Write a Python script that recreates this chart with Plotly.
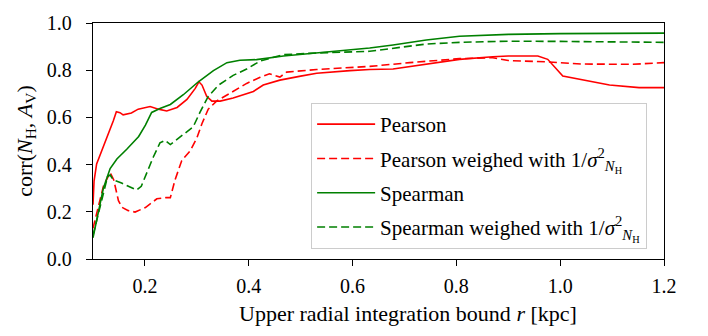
import plotly.graph_objects as go

pearson_x = [0.1, 0.102, 0.107, 0.117, 0.127, 0.133, 0.139, 0.145, 0.152, 0.158, 0.174, 0.187, 0.21, 0.226,
             0.242, 0.262, 0.281, 0.297, 0.304, 0.31, 0.319, 0.329, 0.345, 0.37, 0.396, 0.409, 0.428,
             0.46, 0.5, 0.531, 0.595, 0.633, 0.678, 0.742, 0.806, 0.87, 0.9, 0.957, 0.976, 1.005,
             1.043, 1.095, 1.152, 1.2]
pearson_y = [0.23, 0.33, 0.403, 0.458, 0.512, 0.553, 0.585, 0.624, 0.62, 0.611, 0.619, 0.635, 0.646, 0.635,
             0.627, 0.642, 0.676, 0.723, 0.751, 0.737, 0.689, 0.669, 0.669, 0.682, 0.70, 0.71, 0.737,
             0.758, 0.775, 0.787, 0.798, 0.803, 0.805, 0.826, 0.846, 0.857, 0.86, 0.86, 0.846, 0.775,
             0.758, 0.737, 0.726, 0.726]

pearson_w_x = [0.1, 0.111, 0.12, 0.133, 0.14, 0.149, 0.156, 0.168, 0.181, 0.201, 0.223, 0.24, 0.249,
               0.258, 0.271, 0.287, 0.30, 0.31, 0.322, 0.338, 0.364, 0.396, 0.422, 0.44, 0.46, 0.473,
               0.531, 0.595, 0.633, 0.71, 0.806, 0.87, 0.9, 0.979, 1.043, 1.14, 1.2]
pearson_w_y = [0.13, 0.226, 0.308, 0.367, 0.335, 0.247, 0.219, 0.205, 0.199, 0.218, 0.255, 0.26, 0.26,
               0.335, 0.417, 0.458, 0.512, 0.574, 0.635, 0.669, 0.703, 0.744, 0.77, 0.785, 0.771, 0.792,
               0.803, 0.812, 0.816, 0.832, 0.849, 0.853, 0.841, 0.835, 0.826, 0.825, 0.832]

spearman_x = [0.1, 0.111, 0.12, 0.133, 0.146, 0.165, 0.188, 0.201, 0.213, 0.229, 0.249, 0.274, 0.303,
              0.332, 0.358, 0.383, 0.415, 0.467, 0.531, 0.633, 0.678, 0.742, 0.806, 0.9, 1.0, 1.2]
spearman_y = [0.09, 0.213, 0.30, 0.383, 0.424, 0.465, 0.519, 0.567, 0.621, 0.638, 0.655, 0.696, 0.751,
              0.798, 0.832, 0.842, 0.845, 0.86, 0.873, 0.894, 0.907, 0.928, 0.944, 0.952, 0.955, 0.957]

spearman_w_x = [0.1, 0.117, 0.128, 0.133, 0.139, 0.155, 0.174, 0.184, 0.193, 0.203, 0.216, 0.229, 0.239,
                0.249, 0.268, 0.293, 0.306, 0.322, 0.342, 0.37, 0.396, 0.422, 0.467, 0.531, 0.633,
                0.678, 0.742, 0.806, 0.9, 1.0, 1.2]
spearman_w_y = [0.1, 0.253, 0.349, 0.356, 0.335, 0.322, 0.301, 0.292, 0.308, 0.362, 0.431, 0.492, 0.503,
                0.485, 0.519, 0.56, 0.621, 0.689, 0.737, 0.778, 0.805, 0.839, 0.866, 0.873, 0.88,
                0.894, 0.911, 0.918, 0.923, 0.922, 0.918]

x_ticks = [0.2, 0.4, 0.6, 0.8, 1.0, 1.2]
y_ticks = [0.0, 0.2, 0.4, 0.6, 0.8, 1.0]

weight_txt = " weighed with 1/<i>σ</i><sup>2</sup><sub><i>N</i><sub>H</sub></sub>"
names = ["Pearson", "Pearson" + weight_txt, "Spearman", "Spearman" + weight_txt]
x_title = "Upper radial integration bound <i>r</i> [kpc]"
y_title = "corr(<i>N</i><sub>H</sub>, <i>A</i><sub>V</sub>)"

RED = "#ff0000"
GREEN = "#008000"
FONT = "Liberation Serif"

fig = go.Figure()
series = [
    (pearson_x, pearson_y, RED, "solid"),
    (pearson_w_x, pearson_w_y, RED, "8px,4px"),
    (spearman_x, spearman_y, GREEN, "solid"),
    (spearman_w_x, spearman_w_y, GREEN, "8px,4px"),
]
for i, ((xs, ys, c, d), n) in enumerate(zip(series, names)):
    fig.add_trace(go.Scatter(x=xs, y=ys, mode="lines", name=n, legendgroup=f"g{i}",
                             line=dict(color=c, width=1.6, dash=d)))

axis_common = dict(showline=True, linecolor="black", linewidth=1.3, mirror=True,
                   ticks="outside", ticklen=6, tickwidth=1.3, tickcolor="black",
                   showgrid=False, zeroline=False,
                   tickfont=dict(family=FONT, size=20, color="black"))

fig.update_layout(
    width=708, height=336,
    margin=dict(l=93, r=44, t=14, b=77),
    plot_bgcolor="white", paper_bgcolor="white",
    font=dict(family=FONT, size=20, color="black"),
    xaxis=dict(range=[0.1, 1.2], tickvals=x_ticks, tickformat=".1f",
               ticklabelstandoff=3, **axis_common),
    yaxis=dict(range=[0, 1.0], tickvals=y_ticks, tickformat=".1f",
               ticklabelstandoff=10,
               title=dict(text=y_title, font=dict(family=FONT, size=22), standoff=8),
               **axis_common),
    legend=dict(x=0.382, y=0.661, xanchor="left", yanchor="top", itemwidth=58,
                tracegroupgap=4,
                bgcolor="rgba(255,255,255,0.85)", bordercolor="#cccccc", borderwidth=1,
                font=dict(family=FONT, size=21, color="black")),
    showlegend=True,
)
fig.add_annotation(text=x_title, xref="paper", yref="paper", x=0.552, y=-0.233,
                   xanchor="center", yanchor="middle", showarrow=False,
                   font=dict(family=FONT, size=22, color="black"))

fig.write_html("out.html")
